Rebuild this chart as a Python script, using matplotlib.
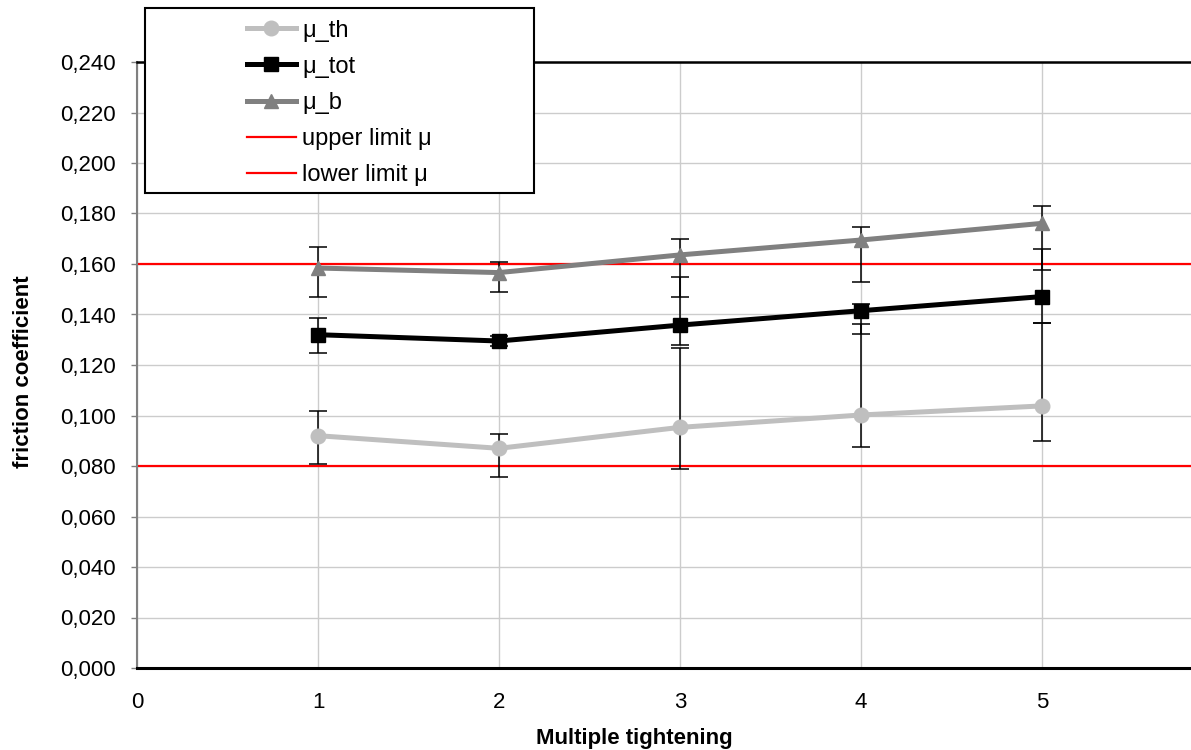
import numpy as np
import matplotlib
matplotlib.use("Agg")
import matplotlib.pyplot as plt
from matplotlib.ticker import FuncFormatter, MultipleLocator
from matplotlib.patches import Rectangle

plt.rcParams['font.family'] = ['Liberation Sans', 'DejaVu Sans']

# data
tightening = [1, 2, 3, 4, 5]

mu_th = [0.0920, 0.0870, 0.0953, 0.1002, 0.1038]
mu_th_low = [0.0807, 0.0758, 0.0787, 0.0876, 0.0898]
mu_th_high = [0.1017, 0.0927, 0.1267, 0.1361, 0.1368]

mu_tot = [0.1320, 0.1295, 0.1358, 0.1415, 0.1471]
mu_tot_low = [0.1248, 0.1275, 0.1278, 0.1321, 0.1368]
mu_tot_high = [0.1387, 0.1315, 0.1547, 0.1443, 0.1658]

mu_b = [0.1584, 0.1566, 0.1636, 0.1695, 0.1761]
mu_b_low = [0.1468, 0.1489, 0.1468, 0.1530, 0.1578]
mu_b_high = [0.1669, 0.1608, 0.1699, 0.1748, 0.1830]

upper_limit = 0.160
lower_limit = 0.080

W, H = 1191, 750
fig = plt.figure(figsize=(W / 100, H / 100), dpi=100)
ax = fig.add_axes([137 / W, 1 - 668 / H, (W - 137) / W, (668 - 62) / H])

FS = 16

def err(v, lo, hi):
    v = np.asarray(v); lo = np.asarray(lo); hi = np.asarray(hi)
    return [v - lo, hi - v]

# limit lines
l_up = ax.axhline(upper_limit, color='#ff0000', lw=1.6, zorder=2)
l_lo = ax.axhline(lower_limit, color='#ff0000', lw=1.6, zorder=2)

series = [
    (mu_th, mu_th_low, mu_th_high, '#bfbfbf', 'o', 10.5, 'μ_th'),
    (mu_tot, mu_tot_low, mu_tot_high, '#000000', 's', 10, 'μ_tot'),
    (mu_b, mu_b_low, mu_b_high, '#808080', '^', 10.5, 'μ_b'),
]
handles = []
for vals, lo, hi, col, mk, ms, lab in series:
    ax.errorbar(tightening, vals, yerr=err(vals, lo, hi), fmt='none',
                ecolor='black', elinewidth=1.1, capsize=6.5, capthick=1.1, zorder=3)
    h, = ax.plot(tightening, vals, color=col, lw=3.6, marker=mk, ms=ms,
                 markeredgecolor=col, label=lab, zorder=4)
    handles.append(h)
l_up.set_label('upper limit μ')
l_lo.set_label('lower limit μ')
handles += [l_up, l_lo]

ax.set_xlim(0, (W - 137) / 181)
ax.set_ylim(0, 0.240)
ax.xaxis.set_major_locator(MultipleLocator(1))
ax.yaxis.set_major_locator(MultipleLocator(0.02))
ax.yaxis.set_major_formatter(FuncFormatter(lambda v, p: f"{v:.3f}".replace('.', ',')))
ax.grid(True, color='#cccccc', lw=1.0, zorder=0)
ax.set_axisbelow(True)

ax.tick_params(axis='x', length=0, pad=17, labelsize=FS)
ax.tick_params(axis='y', length=4.5, width=1, color='#808080', pad=11, labelsize=FS)

ax.spines['right'].set_visible(False)
ax.spines['top'].set_color('black')
ax.spines['top'].set_linewidth(1.8)
ax.spines['bottom'].set_color('black')
ax.spines['bottom'].set_linewidth(2.2)
ax.spines['left'].set_color('#808080')
ax.spines['left'].set_linewidth(1.5)

fig.text(634 / W, 1 - 744 / H, 'Multiple tightening', fontsize=FS,
         fontweight='bold', ha='center', va='baseline')
fig.text(24 / W, 1 - 372 / H, 'friction coefficient', fontsize=FS,
         fontweight='bold', ha='center', va='center', rotation=90)

# legend box
fig.patches.append(Rectangle((145 / W, 1 - 193 / H), (534 - 145) / W, (193 - 8) / H,
                             transform=fig.transFigure, facecolor='white',
                             edgecolor='black', lw=1.5, zorder=3))
fig.legend(handles=handles, loc='upper left', bbox_to_anchor=(230 / W, 1 - 3 / H),
           frameon=False, fontsize=17, handlelength=2.1, handletextpad=0.25,
           labelspacing=0.6, borderpad=0.2)

fig.savefig('out.png', dpi=100)
